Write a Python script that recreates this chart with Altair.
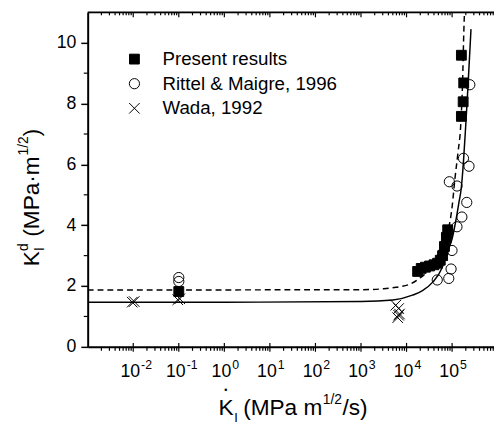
import altair as alt
import pandas as pd

W, H = 413, 340
XMIN, XMAX = 1e-3, 10 ** 5.92
FONT = "Liberation Sans"

# ---- data ----
present_x = [0.1, 1.75e4, 2.1e4, 2.6e4, 3.2e4, 4.0e4, 4.8e4, 5.5e4, 6.2e4, 6.8e4, 7.5e4, 8.0e4,
             1.6e5, 1.8e5, 1.75e5, 1.6e5]
present_y = [1.82, 2.48, 2.58, 2.62, 2.66, 2.70, 2.75, 2.85, 3.0, 3.3, 3.6, 3.85,
             9.59, 8.68, 8.06, 7.58]

rittel_x = [0.1, 0.1, 4.72e4, 8.45e4, 9.5e4, 6.35e4, 9.95e4, 7.76e4, 1.28e5, 2.1e5, 1.64e5,
            8.7e4, 1.28e5, 1.78e5, 2.35e5, 2.45e5]
rittel_y = [2.28, 2.15, 2.2, 2.25, 2.56, 3.09, 3.17, 3.68, 3.95, 4.75, 4.27,
            5.43, 5.29, 6.2, 5.94, 8.62]

wada_x = [0.0095, 0.0105, 0.095, 0.105, 5.8e3, 6.7e3, 6.7e3, 6.4e3, 7.0e3]
wada_y = [1.47, 1.49, 1.55, 1.58, 1.37, 1.26, 1.04, 0.96, 1.08]

# fitted curves (log10 of x, y)
solid_logx = [-3, 0, 3, 3.7, 4.13, 4.35, 4.57, 4.78, 4.89, 5.0, 5.05, 5.1, 5.15, 5.2, 5.25, 5.3, 5.35, 5.415]
solid_y = [1.47, 1.47, 1.49, 1.54, 1.70, 1.85, 2.12, 2.60, 3.10, 3.55, 3.90, 4.30, 4.75, 5.20, 6.10, 7.30, 8.60, 10.45]

dashed_logx = [-3, 3, 3.5, 3.77, 4.07, 4.28, 4.5, 4.7, 4.85, 4.93, 5.0, 5.06, 5.13, 5.19, 5.23, 5.26, 5.272]
dashed_y = [1.87, 1.88, 1.91, 1.96, 2.06, 2.25, 2.55, 3.05, 3.55, 3.94, 4.6, 5.5, 6.4, 7.3, 8.7, 10.5, 11.0]

series_names = ["Present results", "Rittel & Maigre, 1996", "Wada, 1992"]
x_tick_exponents = [-2, -1, 0, 1, 2, 3, 4, 5]
y_tick_values = [0, 2, 4, 6, 8, 10]
y_minor_values = [1, 3, 5, 7, 9]

# ---- tables ----
pts = pd.DataFrame({
    "series": [series_names[0]] * len(present_x) + [series_names[1]] * len(rittel_x) + [series_names[2]] * len(wada_x),
    "x": present_x + rittel_x + wada_x,
    "y": present_y + rittel_y + wada_y,
})
solid_df = pd.DataFrame({"x": [10 ** v for v in solid_logx], "y": solid_y})
dashed_df = pd.DataFrame({"x": [10 ** v for v in dashed_logx], "y": dashed_y})
major_df = pd.DataFrame({"t": [10.0 ** e for e in x_tick_exponents],
                         "base": ["10"] * len(x_tick_exponents),
                         "exp": [str(e) for e in x_tick_exponents]})
minor_df = pd.DataFrame({"t": [m * 10.0 ** e for e in range(-3, 6) for m in range(2, 10) if m * 10.0 ** e < XMAX]})
yminor_df = pd.DataFrame({"t": y_minor_values})
one = pd.DataFrame({"a": [0]})

xs = alt.Scale(type="log", domain=[XMIN, XMAX])
ys = alt.Scale(domain=[0, 11])
xaxis = alt.Axis(title=None, labels=False, ticks=False, grid=False, domainWidth=2, domainColor="black")
yaxis = alt.Axis(title=None, values=y_tick_values, tickSize=7, tickWidth=1.5, tickColor="black",
                 labelFontSize=18, labelFont=FONT, labelColor="black", labelPadding=5,
                 domainWidth=2, domainColor="black", grid=False)


def X(f="x"):
    return alt.X(f"{f}:Q", scale=xs, axis=xaxis)


def Y(f="y"):
    return alt.Y(f"{f}:Q", scale=ys, axis=yaxis)


cross = "M-1,-1L1,1M1,-1L-1,1"
leg = alt.Legend(orient="none", legendX=38, legendY=38, title=None, labelFont=FONT, labelFontSize=19,
                 labelColor="black", labelOffset=19, rowPadding=5, padding=0, labelLimit=0,
                 symbolStrokeWidth=1, symbolStrokeColor="black")

points = alt.Chart(pts).mark_point(filled=False, strokeWidth=1, opacity=1).encode(
    x=X(), y=Y(),
    shape=alt.Shape("series:N", scale=alt.Scale(domain=series_names, range=["square", "circle", cross]), legend=leg),
    fill=alt.Fill("series:N", scale=alt.Scale(domain=series_names, range=["black", "transparent", "transparent"]), legend=leg),
    stroke=alt.Stroke("series:N", scale=alt.Scale(domain=series_names, range=["black", "black", "black"]), legend=leg),
    size=alt.Size("series:N", scale=alt.Scale(domain=series_names, range=[100, 115, 170]), legend=leg),
)

solid = alt.Chart(solid_df).mark_line(color="black", strokeWidth=1.5, interpolate="monotone", clip=True).encode(x=X(), y=Y())
dashed = alt.Chart(dashed_df).mark_line(color="black", strokeWidth=1.5, strokeDash=[6, 4],
                                        interpolate="monotone", clip=True).encode(x=X(), y=Y())

tick_style = dict(color="black", strokeWidth=1.2)
bot_major = alt.Chart(major_df).mark_rule(**tick_style).encode(x=X("t"), y=alt.value(H - 4), y2=alt.value(H + 5))
bot_minor = alt.Chart(minor_df).mark_rule(**tick_style).encode(x=X("t"), y=alt.value(H), y2=alt.value(H + 4))
top_major = alt.Chart(major_df).mark_rule(**tick_style).encode(x=X("t"), y=alt.value(0), y2=alt.value(5))
top_minor = alt.Chart(minor_df).mark_rule(**tick_style).encode(x=X("t"), y=alt.value(0), y2=alt.value(3))
y_minor = alt.Chart(yminor_df).mark_rule(**tick_style).encode(y=Y("t"), x=alt.value(-4), x2=alt.value(0))
top_line = alt.Chart(one).mark_rule(color="black", strokeWidth=2).encode(
    x=alt.value(0), x2=alt.value(W), y=alt.value(0))

lab10 = alt.Chart(major_df).mark_text(align="right", dx=7, baseline="alphabetic", fontSize=18, font=FONT,
                                      color="black").encode(x=X("t"), y=alt.value(H + 31), text="base:N")
labexp = alt.Chart(major_df).mark_text(align="left", dx=8, baseline="alphabetic", fontSize=12.5, font=FONT,
                                       color="black").encode(x=X("t"), y=alt.value(H + 22), text="exp:N")


def piece(txt, x, y, size, angle=0, align="left"):
    return alt.Chart(pd.DataFrame({"t": [txt]})).mark_text(
        align=align, baseline="alphabetic", fontSize=size, font=FONT, color="black", angle=angle
    ).encode(x=alt.value(x), y=alt.value(y), text="t:N")


# x title: K-dot_I (MPa m^1/2/s)
xt = [
    piece("K", 133, 409, 23),
    piece("•", 140.5, 387, 9, align="center"),
    piece("I", 149, 416, 13),
    piece("(MPa m", 158, 409, 23),
    piece("1/2", 239, 398, 14),
    piece("/s)", 259, 409, 23),
]
# y title: K_I^d (MPa·m^1/2)
yt = [
    piece("K", -49, 258, 23, angle=270),
    piece("I", -44, 242.5, 14, angle=270),
    piece("d", -61, 242.5, 14, angle=270),
    piece("(MPa·m", -49, 228, 23, angle=270),
    piece("1/2", -61, 145.5, 14, angle=270),
    piece(")", -49, 126, 23, angle=270),
]

chart = alt.layer(
    dashed, solid, points, bot_major, bot_minor, top_major, top_minor, y_minor, top_line,
    lab10, labexp, *xt, *yt
).properties(
    width=W, height=H,
    padding={"left": 81, "top": 1, "right": 0, "bottom": 77},
    autosize=alt.AutoSizeParams(type="none"),
).configure_view(stroke=None).configure(background="white")

chart.save("out.html", embed_options={"renderer": "svg", "actions": False})
